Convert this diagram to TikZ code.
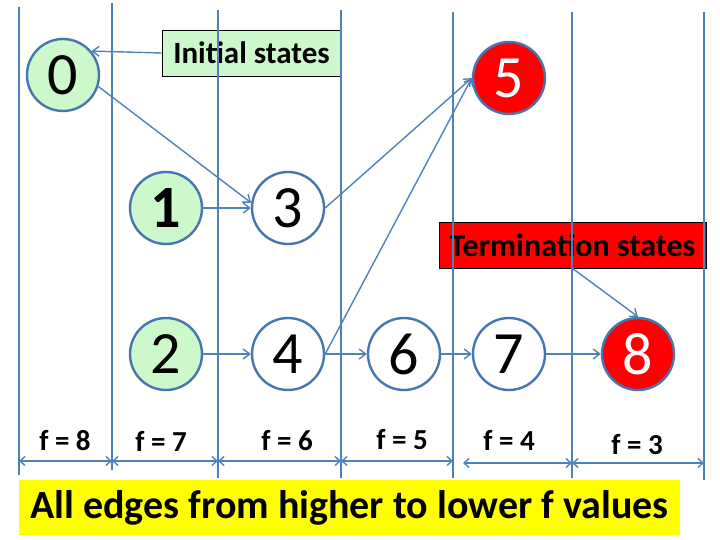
\documentclass[tikz,border=0pt]{standalone}
\usepackage{fontspec}
\setmainfont{Carlito}
\usetikzlibrary{arrows.meta}
\definecolor{lineblue}{HTML}{4F81BD}
\definecolor{ringblue}{HTML}{4576B2}
\definecolor{paleg}{HTML}{CCF8CC}
\definecolor{hotred}{HTML}{FF0000}
\definecolor{hiyellow}{HTML}{FFFF00}
\begin{document}
\begin{tikzpicture}[x=1pt,y=-1pt,
  state/.style={circle,draw=ringblue,line width=2.4pt,minimum size=72pt,inner sep=0pt,fill=white,
    font=\fontsize{60}{60}\selectfont},
  startstate/.style={state,fill=paleg},
  endstate/.style={state,fill=hotred,text=white},
  column/.style={draw=lineblue,line width=1.5pt},
  edge/.style={draw=lineblue,line width=1.4pt,-{Straight Barb[length=6.5pt,width=10pt]}},
  span/.style={draw=lineblue,line width=1.4pt,{Straight Barb[length=5pt,width=9pt]}-{Straight Barb[length=5pt,width=9pt]}},
  flabel/.style={font=\fontsize{29}{29}\selectfont\bfseries,inner sep=0pt},
  tag/.style={draw=black,line width=0.6pt,inner sep=0pt,minimum height=46pt,font=\fontsize{31}{31}\selectfont\bfseries}
]
\useasboundingbox (0,0) rectangle (720,540);
% labelled boxes
\node[tag,fill=paleg,minimum width=179pt] (init) at (251.5,53) {Initial states};
\node[tag,fill=hotred,minimum width=267pt,font=\fontsize{32}{32}\selectfont\bfseries] (term) at (572.5,245) {Termination states};
% states
\node[startstate] (n0) at (63,75) {0};
\node[startstate,font=\fontsize{60}{60}\selectfont\bfseries] (n1) at (166,208) {1};
\node[startstate] (n2) at (166,354) {2};
\node[state] (n3) at (288,208) {3};
\node[state] (n4) at (288,354) {4};
\node[endstate] (n5) at (509,78) {5};
\node[state] (n6) at (404,354) {6};
\node[state] (n7) at (509,354) {7};
\node[endstate] (n8) at (638,354) {8};
% column lines
\draw[column] (19,7) -- (19,475);
\draw[column] (112,3) -- (112,470);
\draw[column] (218,10) -- (218,478);
\draw[column] (341,10) -- (341,478);
\draw[column] (453,12) -- (453,478);
\draw[column] (572,12) -- (572,478);
\draw[column] (704,12) -- (704,480);
% edges
\draw[edge] (init.west) -- (n0.40);
\coordinate (tfoot) at (572,268);
\draw[edge] (tfoot) -- (n8.north);
\draw[edge] (n0.-18) -- (n3.172);
\draw[edge] (n1) -- (n3);
\draw[edge] (n3.east) -- (n5.west);
\draw[edge] (n4.east) -- (n5.west);
\draw[edge] (n2) -- (n4);
\draw[edge] (n4) -- (n6);
\draw[edge] (n6) -- (n7);
\draw[edge] (n7) -- (n8);
% f spans
\coordinate (s0) at (19,461);
\coordinate (s1) at (112,461);
\coordinate (s2) at (218,461);
\coordinate (s3) at (341,461);
\coordinate (s4) at (453,461);
\coordinate (s5a) at (463,463);
\coordinate (s5) at (572,463);
\coordinate (s6) at (704,463);
\draw[span] (s0) -- (s1);
\draw[span] (s1) -- (s2);
\draw[span] (s2) -- (s3);
\draw[span] (s3) -- (s4);
\draw[span] (s5a) -- (s5);
\draw[span] (s5) -- (s6);
\node[flabel] (f8) at (65,441) {f = 8};
\node[flabel] (f7) at (161,441) {f = 7};
\node[flabel] (f6) at (287,441) {f = 6};
\node[flabel] (f5) at (402,440) {f = 5};
\node[flabel] (f4) at (509,440) {f = 4};
\node[flabel] (f3) at (637,445) {f = 3};
% caption
\node[fill=hiyellow,minimum width=661pt,minimum height=55pt,inner sep=0pt,
  font=\fontsize{40}{40}\selectfont\bfseries] (cap) at (349.5,507.5) {All edges from higher to lower f values};
\end{tikzpicture}
\end{document}
